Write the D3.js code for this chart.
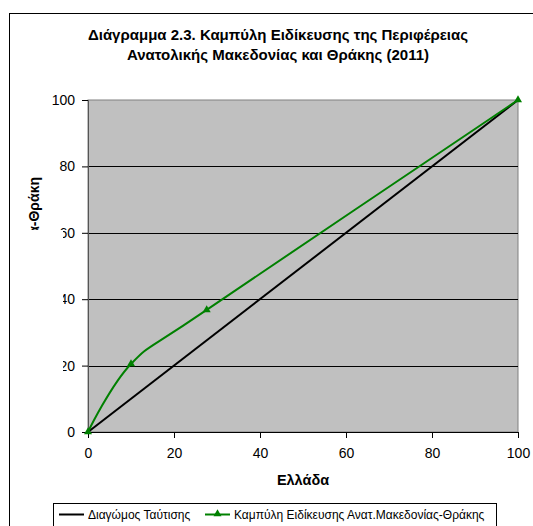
<!DOCTYPE html>
<html><head><meta charset="utf-8">
<script src="https://cdn.jsdelivr.net/npm/d3@7"></script>
<style>body{margin:0;background:#fff}svg{display:block}text{font-family:"Liberation Sans",Arial,sans-serif}</style>
</head><body><svg id="c" width="533" height="526"></svg>
<script>
const titleLines = ["Διάγραμμα 2.3. Καμπύλη Ειδίκευσης της Περιφέρειας", "Ανατολικής Μακεδονίας και Θράκης (2011)"];
const xTitle = "Ελλάδα";
const yTitle = "Ανατ.Μακεδονία-Θράκη";
const tickValues = [0, 20, 40, 60, 80, 100];
const diagX = [0, 100];
const diagY = [0, 100];
const curveX = [0, 10, 27.6, 100];
const curveY = [0, 20.5, 36.8, 100];
const seriesNames = ["Διαγώμος Ταύτισης", "Καμπύλη Ειδίκευσης Ανατ.Μακεδονίας-Θράκης"];

const FF = '"Liberation Sans",Arial,sans-serif';
const svg = d3.select("#c");
const L = 88, R = 518, T = 100, B = 432;
const x = d3.scaleLinear().domain([0, 100]).range([L, R]);
const y = d3.scaleLinear().domain([0, 100]).range([B, T]);

// outer border
svg.append("rect").attr("x", 9.5).attr("y", 13.5).attr("width", 540).attr("height", 540)
  .attr("fill", "none").attr("stroke", "#000");

// title
svg.append("g").selectAll("text").data(titleLines).join("text")
  .attr("x", 278).attr("y", (d, i) => 40 + i * 20).attr("text-anchor", "middle")
  .attr("font-size", 15).attr("font-weight", "bold").text(d => d);

// plot bg
svg.append("rect").attr("x", L).attr("y", T).attr("width", R - L).attr("height", B - T)
  .attr("fill", "#c0c0c0").attr("stroke", "#808080");

// gridlines
svg.append("g").selectAll("line").data(tickValues.filter(v => v > 0 && v < 100)).join("line")
  .attr("x1", L).attr("x2", R).attr("y1", d => Math.round(y(d)) + 0.5).attr("y2", d => Math.round(y(d)) + 0.5)
  .attr("stroke", "#000").attr("stroke-width", 1);

// axes
const xAxis = svg.append("g").attr("transform", `translate(0,${B})`)
  .call(d3.axisBottom(x).tickValues(tickValues).tickSize(6).tickPadding(10));
const yAxis = svg.append("g").attr("transform", `translate(${L},0)`)
  .call(d3.axisLeft(y).tickValues(tickValues).tickSize(6).tickPadding(7));
[xAxis, yAxis].forEach(a => {
  a.select(".domain").attr("stroke", "#000");
  a.selectAll(".tick line").attr("stroke", "#000");
  a.selectAll("text").attr("font-size", 14).attr("fill", "#000").attr("font-family", FF);
});
yAxis.select(".domain").attr("stroke", "#555");

// lines
const line = d3.line().x(d => x(d[0])).y(d => y(d[1]));
svg.append("path").datum(diagX.map((v, i) => [v, diagY[i]]))
  .attr("d", line).attr("fill", "none").attr("stroke", "#000").attr("stroke-width", 2);
const curvePts = curveX.map((v, i) => [v, curveY[i]]);
svg.append("path").datum(curvePts)
  .attr("d", line.curve(d3.curveCatmullRom.alpha(0))).attr("fill", "none").attr("stroke", "#008000").attr("stroke-width", 2);
const tri = d3.symbol().type(d3.symbolTriangle).size(28);
svg.append("g").selectAll("path").data(curvePts).join("path")
  .attr("d", tri).attr("transform", d => `translate(${x(d[0])},${y(d[1])})`).attr("fill", "#008000");

// x title
svg.append("text").attr("x", (L + R) / 2).attr("y", 485).attr("text-anchor", "middle")
  .attr("font-size", 14.5).attr("font-weight", "bold").text(xTitle);

// y title (partly hidden as in reference)
svg.append("text").attr("transform", "translate(39,177) rotate(-90)").attr("text-anchor", "end")
  .attr("font-size", 14).attr("font-weight", "bold").text(yTitle);
svg.append("rect").attr("x", 11).attr("y", 230).attr("width", 52).attr("height", 165).attr("fill", "#fff");

// legend
const lg = svg.append("g");
lg.append("rect").attr("x", 53.5).attr("y", 503.5).attr("width", 443).attr("height", 30)
  .attr("fill", "#fff").attr("stroke", "#000");
const items = [{x: 59, tx: 88, color: "#000", marker: false}, {x: 205, tx: 234, color: "#008000", marker: true}];
items.forEach((it, i) => {
  lg.append("line").attr("x1", it.x).attr("x2", it.x + 25).attr("y1", 514.5).attr("y2", 514.5)
    .attr("stroke", it.color).attr("stroke-width", 2);
  if (it.marker) lg.append("path").attr("d", tri).attr("transform", `translate(${it.x + 12.5},514)`).attr("fill", it.color);
  lg.append("text").attr("x", it.tx).attr("y", 519).attr("font-size", 12).text(seriesNames[i]);
});
</script></body></html>
